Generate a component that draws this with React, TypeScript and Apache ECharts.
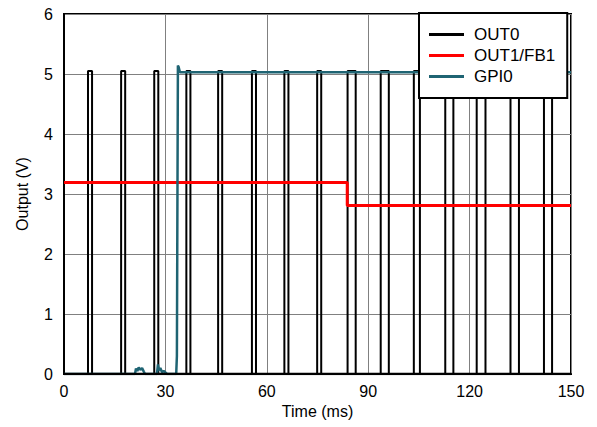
import React, { useEffect, useRef } from "react";
import * as echarts from "echarts";

// OUT0 pulse edges (ms)
const pulseRise = [7.1, 16.9, 26.7, 36.2, 45.6, 55.6, 65.2, 74.9, 83.9, 93.7, 103.5, 112.8, 122.1, 132.1, 142.0];
const pulseFall = [8.3, 18.1, 27.9, 37.4, 46.8, 56.8, 66.4, 76.1, 86.3, 96.1, 105.3, 115.2, 124.7, 134.6, 144.4];
const pulseHigh = 5.05;

// OUT1/FB1 step (ms, V)
const out1Time = [0, 83.8, 83.8, 150];
const out1Volt = [3.19, 3.19, 2.81, 2.81];

// GPI0 trace (ms, V)
const gpiTime = [0, 21, 21.3, 21.7, 22.1, 22.6, 23.1, 23.6, 24, 27.5, 27.8, 28.1, 28.5, 29.0, 29.5, 30.5, 33.2, 33.4, 33.7, 33.9, 34.3, 60, 100, 150];
const gpiVolt = [0, 0, 0.09, 0.05, 0.11, 0.07, 0.1, 0.04, 0, 0, 0.16, 0.06, 0.1, 0.03, 0.05, 0, 0, 0.3, 5.14, 5.12, 5.03, 5.03, 5.03, 5.03];

const xTicks = [0, 30, 60, 90, 120, 150];
const yTicks = [0, 1, 2, 3, 4, 5, 6];

export default function App() {
  const ref = useRef<HTMLDivElement>(null);
  useEffect(() => {
    if (!ref.current) return;
    const chart = echarts.init(ref.current, undefined, { renderer: "svg" });
    const out0: number[][] = [[0, 0]];
    pulseRise.forEach((r, i) => {
      out0.push([r, 0], [r, pulseHigh], [pulseFall[i], pulseHigh], [pulseFall[i], 0]);
    });
    out0.push([150, 0]);
    const out0Base = [[xTicks[0], 0], [xTicks[xTicks.length - 1], 0]];
    const out1 = out1Time.map((t, i) => [t, out1Volt[i]]);
    const gpi = gpiTime.map((t, i) => [t, gpiVolt[i]]);
    const font = "Arial, 'Liberation Sans', sans-serif";
    chart.setOption({
      animation: false,
      backgroundColor: "#fff",
      grid: {
        left: 64, right: 26, top: 14, bottom: 53,
        show: true, borderColor: "#000", borderWidth: 2, backgroundColor: "transparent",
      },
      xAxis: {
        type: "value", min: xTicks[0], max: xTicks[xTicks.length - 1], interval: 30,
        name: "Time (ms)", nameLocation: "middle", nameGap: 28,
        nameTextStyle: { fontFamily: font, fontSize: 16, color: "#000" },
        axisLine: { show: true, lineStyle: { color: "#000", width: 2 } },
        axisTick: { show: false },
        axisLabel: { fontFamily: font, fontSize: 16, color: "#000", margin: 9 },
        splitLine: { show: true, lineStyle: { color: "#808080", width: 1 } },
      },
      yAxis: {
        type: "value", min: yTicks[0], max: yTicks[yTicks.length - 1], interval: 1,
        name: "Output (V)", nameLocation: "middle", nameGap: 34, nameRotate: 90,
        nameTextStyle: { fontFamily: font, fontSize: 16, color: "#000" },
        axisLine: { show: true, lineStyle: { color: "#000", width: 2 } },
        axisTick: { show: false },
        axisLabel: { fontFamily: font, fontSize: 16, color: "#000", margin: 11 },
        splitLine: { show: true, lineStyle: { color: "#808080", width: 1 } },
      },
      legend: {
        orient: "vertical", left: 419, top: 13,
        backgroundColor: "#fff", borderColor: "#000", borderWidth: 2,
        padding: [13, 12, 13, 10], itemWidth: 35, itemHeight: 3, itemGap: 4,
        icon: "rect",
        textStyle: { fontFamily: font, fontSize: 17, lineHeight: 17, color: "#000", padding: [0, 0, 0, 5] },
        data: ["OUT0", "OUT1/FB1", "GPI0"],
      },
      series: [
        { name: "OUT0", type: "line", data: out0, showSymbol: false, symbol: "none",
          lineStyle: { color: "#000", width: 2 }, itemStyle: { color: "#000" } },
        { name: "OUT1/FB1", type: "line", data: out1, showSymbol: false, symbol: "none",
          lineStyle: { color: "#ff0000", width: 3 }, itemStyle: { color: "#ff0000" } },
        { name: "GPI0", type: "line", data: gpi, showSymbol: false, symbol: "none",
          lineStyle: { color: "#1f6473", width: 2.5 }, itemStyle: { color: "#1f6473" } },
        { name: "OUT0", type: "line", data: out0Base, showSymbol: false, symbol: "none", z: 3,
          lineStyle: { color: "#000", width: 2.5 }, itemStyle: { color: "#000" } },
      ],
    });
    return () => chart.dispose();
  }, []);
  return <div ref={ref} style={{ position: "absolute", left: 0, top: 0, width: 597, height: 427 }} />;
}
